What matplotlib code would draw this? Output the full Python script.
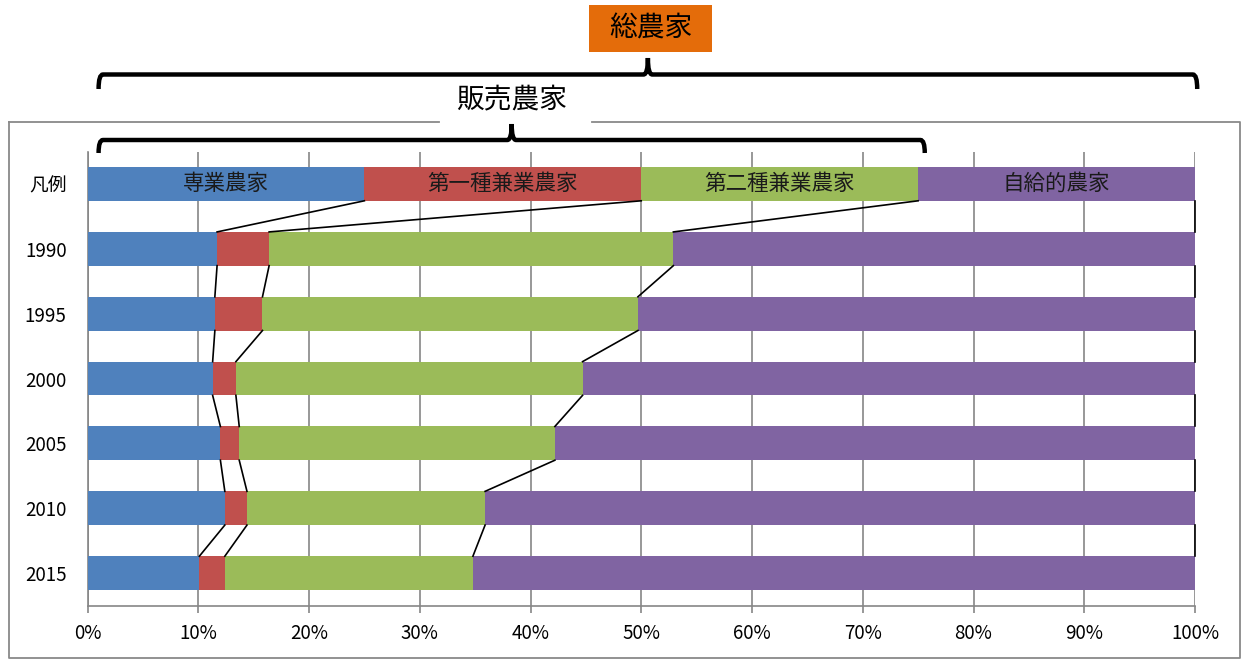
import numpy as np
import matplotlib
matplotlib.use('Agg')
import matplotlib.pyplot as plt
from matplotlib.path import Path
from matplotlib.patches import PathPatch, Rectangle
from matplotlib.lines import Line2D
from matplotlib.transforms import blended_transform_factory

plt.rcParams['font.family'] = ['Noto Sans CJK JP', 'DejaVu Sans']

# rows: legend row on top, then the census years
row_labels = ['凡例', '1990', '1995', '2000', '2005', '2010', '2015']
categories = ['専業農家', '第一種兼業農家', '第二種兼業農家', '自給的農家']

# shares of farm households (%)
sengyo = [25, 11.7, 11.5, 11.3, 12.0, 12.4, 10.1]
daiichi = [25, 4.7, 4.3, 2.1, 1.7, 2.0, 2.3]
daini = [25, 36.5, 33.9, 31.3, 28.5, 21.5, 22.4]
jikyu = [25, 47.1, 50.3, 55.3, 57.8, 64.1, 65.2]

colors = ['#4F81BD', '#C0504D', '#9BBB59', '#8064A2']

W, H = 1249, 660
fig = plt.figure(figsize=(W / 100, H / 100), dpi=100)
fig.patch.set_facecolor('white')


def fx(p):
    return p / W


def fy(p):
    return 1 - p / H


ax = fig.add_axes([fx(87.5), fy(605.5), (1195 - 87.5) / W, (605.5 - 151.5) / H])

# stacked horizontal bars
y = np.arange(len(row_labels))
bar_h = 0.52
series = np.array([sengyo, daiichi, daini, jikyu], dtype=float)
left = np.zeros(len(row_labels))
for vals, col in zip(series, colors):
    ax.barh(y, vals, left=left, height=bar_h, color=col, zorder=3)
    left = left + vals

# legend labels inside the top row
cum = np.cumsum(series, axis=0)
starts = cum - series
for k, name in enumerate(categories):
    mid = starts[k, 0] + series[k, 0] / 2
    ax.text(mid, 0, name, ha='center', va='center', fontsize=15.5, color='#1a1a1a', zorder=4)

# connector lines between segment edges of neighbouring rows
for i in range(len(row_labels) - 1):
    for k in range(len(categories)):
        ax.plot([cum[k, i], cum[k, i + 1]], [i + bar_h / 2, i + 1 - bar_h / 2],
                color='black', lw=1.2, zorder=4, clip_on=False)

ax.set_xlim(0, 100)
ax.set_ylim(len(row_labels) - 0.5, -0.5)
ax.set_xticks(np.arange(0, 101, 10))
ax.set_xticklabels([f'{t}%' for t in range(0, 101, 10)])
ax.set_yticks(y)
ax.set_yticklabels(row_labels)
ax.get_yticklabels()[0].set_fontsize(14.5)
ax.xaxis.grid(True, color='#868686', lw=1.2)
ax.set_axisbelow(True)
for s in ['top', 'right']:
    ax.spines[s].set_visible(False)
for s in ['left', 'bottom']:
    ax.spines[s].set_color('#868686')
    ax.spines[s].set_linewidth(1.2)
ax.tick_params(axis='x', length=5, width=1.2, color='#868686', pad=7.5, labelsize=13.5)
ax.tick_params(axis='y', length=0, pad=15, labelsize=13.5)
for lab in ax.get_yticklabels():
    lab.set_verticalalignment('center_baseline')

# grey frame around chart, with a gap for the 販売農家 label
frame = dict(color='#898989', lw=1.3, transform=fig.transFigure)
fig.lines.append(Line2D([fx(9), fx(439)], [fy(122), fy(122)], **frame))
fig.lines.append(Line2D([fx(592), fx(1240), fx(1240), fx(9), fx(9)],
                        [fy(122), fy(122), fy(658), fy(658), fy(122)], **frame))

# curly-ish brackets; x in data units, y in figure pixels
trans = blended_transform_factory(ax.transData, fig.transFigure)


def bracket(x0, x1, y_line, y_end, y_peak, r=0.4):
    xc = (x0 + x1) / 2
    verts = [(x0, fy(y_end)), (x0, fy(y_line)), (x0 + r, fy(y_line)),
             (xc - r, fy(y_line)), (xc, fy(y_line)), (xc, fy(y_peak)),
             (xc, fy(y_line)), (xc + r, fy(y_line)),
             (x1 - r, fy(y_line)), (x1, fy(y_line)), (x1, fy(y_end))]
    codes = [Path.MOVETO, Path.CURVE3, Path.CURVE3,
             Path.LINETO, Path.CURVE3, Path.CURVE3,
             Path.CURVE3, Path.CURVE3,
             Path.LINETO, Path.CURVE3, Path.CURVE3]
    p = PathPatch(Path(verts, codes), fill=False, lw=3.2, edgecolor='black',
                  transform=trans, clip_on=False, capstyle='butt', joinstyle='miter')
    fig.patches.append(p)
    return xc


# 総農家 covers all four classes, 販売農家 the first three
xc_all = bracket(1, cum[3, 0] + 0.2, 74.5, 89, 58)
xc_sale = bracket(1, cum[2, 0] + 0.6, 140, 153, 124)

fig.patches.append(Rectangle((fx(589), fy(52)), (712 - 589) / W, (52 - 5) / H,
                             facecolor='#E46C0A', edgecolor='none', transform=fig.transFigure))
fig.text(fx(650.5), fy(29), '総農家', ha='center', va='center', fontsize=20, color='black')
fig.text(xc_sale, fy(99), '販売農家', ha='center', va='center', fontsize=20,
         color='black', transform=trans)

fig.savefig('out.png', dpi=100)
